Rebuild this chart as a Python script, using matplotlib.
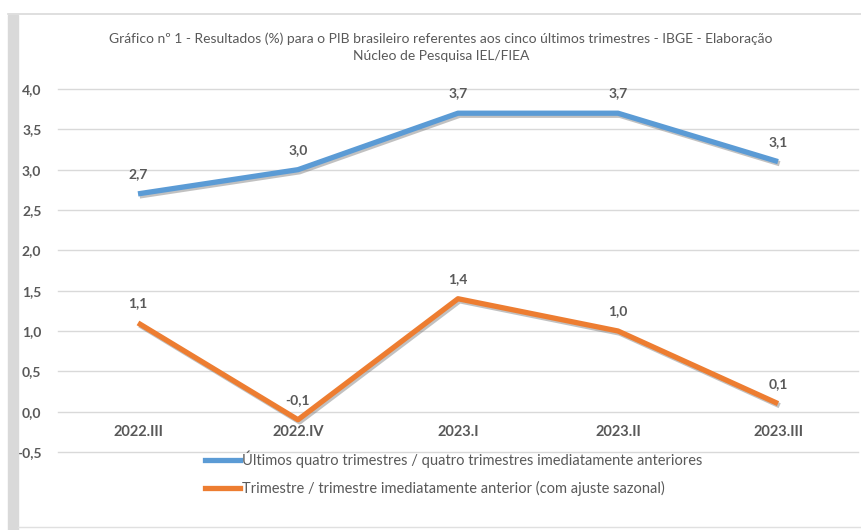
import matplotlib.pyplot as plt
import matplotlib.patheffects as pe
from matplotlib.patches import Rectangle
from matplotlib.lines import Line2D

plt.rcParams['font.family'] = ['Lato', 'DejaVu Sans']

trimestres = ['2022.III', '2022.IV', '2023.I', '2023.II', '2023.III']
quatro_trim = [2.7, 3.0, 3.7, 3.7, 3.1]
trim_anterior = [1.1, -0.1, 1.4, 1.0, 0.1]
yticks = [-0.5, 0.0, 0.5, 1.0, 1.5, 2.0, 2.5, 3.0, 3.5, 4.0]

azul = '#5B9BD5'
laranja = '#ED7D31'
cinza_txt = '#595959'

fig = plt.figure(figsize=(8.62, 5.30), dpi=100)
W, H = 862, 530

# moldura do grafico (borda cinza a esquerda e linhas no topo/base)
fig.patches.append(Rectangle((8 / W, 0), 10 / W, 1 - 15 / H, transform=fig.transFigure,
                             color='#D9D9D9', zorder=0))
fig.lines.append(Line2D([8 / W, 1], [1 - 14 / H, 1 - 14 / H], transform=fig.transFigure,
                        color='#D9D9D9', lw=1.2))
fig.lines.append(Line2D([18 / W, 1], [1 - 527 / H, 1 - 527 / H], transform=fig.transFigure,
                        color='#E0E0E0', lw=1))

ax = fig.add_axes([58 / W, 1 - 452 / H, 800 / W, 363 / H])
x = list(range(len(trimestres)))

# linhas de grade desenhadas a mao para a de -0,5 nao ser cortada
for t in yticks:
    ax.axhline(t, color='#D9D9D9', lw=1, zorder=0, clip_on=False)

sombra = [pe.SimpleLineShadow(offset=(1.2, -1.5), shadow_color='#777777', alpha=0.45),
          pe.Normal()]
ax.plot(x, quatro_trim, color=azul, lw=3.8, solid_capstyle='butt', path_effects=sombra, zorder=3)
ax.plot(x, trim_anterior, color=laranja, lw=3.8, solid_capstyle='butt', path_effects=sombra, zorder=3)

for serie in (quatro_trim, trim_anterior):
    for xi, v in zip(x, serie):
        ax.annotate(f'{v:.1f}'.replace('.', ','), (xi, v), xytext=(0, 10),
                    textcoords='offset points', ha='center', va='bottom',
                    fontsize=10, fontweight='bold', color=cinza_txt)

ax.set_xlim(-0.5, 4.5)
ax.set_ylim(-0.5, 4.0)
ax.set_yticks(yticks)
ax.set_yticklabels([f'{t:.1f}'.replace('.', ',') for t in yticks])
ax.set_xticks([])
for s in ax.spines.values():
    s.set_visible(False)
ax.tick_params(axis='y', length=0, pad=12, labelsize=10, labelcolor=cinza_txt)
for lab in ax.get_yticklabels():
    lab.set_fontweight('bold')

# rotulos das categorias logo abaixo da linha do zero
for xi, t in zip(x, trimestres):
    ax.text(xi, -0.25, t, ha='center', va='center', fontsize=10.5, fontweight='bold', color=cinza_txt)

fig.text(441 / W, 1 - 47 / H,
         'Gráfico nº 1 - Resultados (%) para o PIB brasileiro referentes aos cinco últimos trimestres - IBGE - Elaboração\nNúcleo de Pesquisa IEL/FIEA',
         ha='center', va='center', fontsize=10, color=cinza_txt, linespacing=1.45)

handles = [Line2D([], [], color=azul, lw=3.8), Line2D([], [], color=laranja, lw=3.8)]
fig.legend(handles, ['Últimos quatro trimestres / quatro trimestres imediatamente anteriores',
                     'Trimestre / trimestre imediatamente anterior (com ajuste sazonal)'],
           loc='upper left', bbox_to_anchor=(198 / W, 1 - 443 / H), frameon=False,
           fontsize=10.5, labelcolor=cinza_txt, handlelength=2.4, handletextpad=0.1,
           labelspacing=0.9, borderpad=0)

fig.savefig('out.png', dpi=100)
